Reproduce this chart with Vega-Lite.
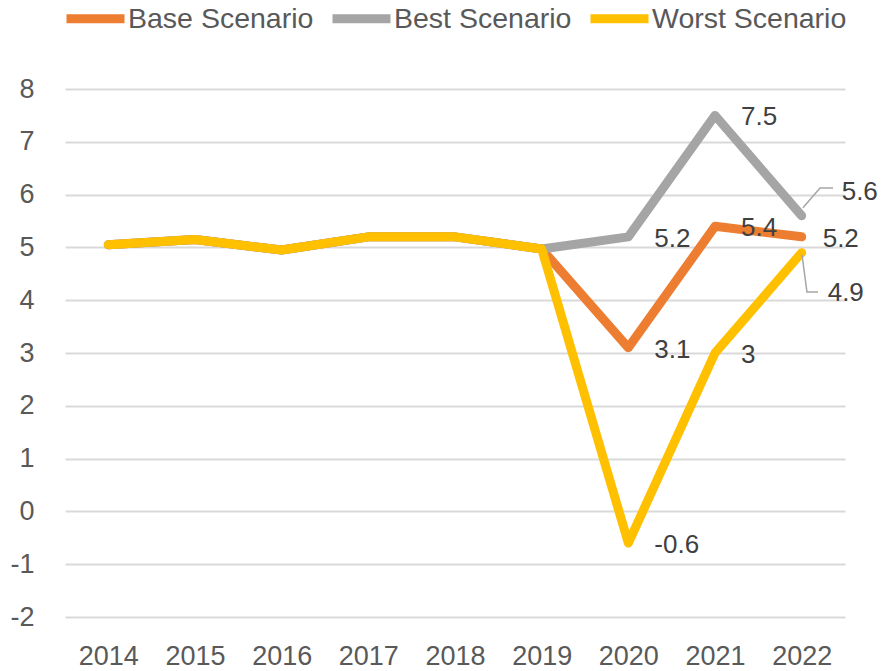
{
  "$schema": "https://vega.github.io/schema/vega-lite/v6.json",
  "width": 780,
  "height": 528,
  "autosize": "none",
  "padding": {"left": 65, "top": 89, "right": 38, "bottom": 54},
  "background": "white",
  "config": {
    "view": {"stroke": null},
    "font": "Liberation Sans"
  },
  "datasets": {
    "series": [
      {"year": 2014, "scenario": "Base Scenario", "value": 5.05},
      {"year": 2015, "scenario": "Base Scenario", "value": 5.15},
      {"year": 2016, "scenario": "Base Scenario", "value": 4.95},
      {"year": 2017, "scenario": "Base Scenario", "value": 5.2},
      {"year": 2018, "scenario": "Base Scenario", "value": 5.2},
      {"year": 2019, "scenario": "Base Scenario", "value": 4.97},
      {"year": 2020, "scenario": "Base Scenario", "value": 3.1},
      {"year": 2021, "scenario": "Base Scenario", "value": 5.4},
      {"year": 2022, "scenario": "Base Scenario", "value": 5.2},
      {"year": 2014, "scenario": "Best Scenario", "value": 5.05},
      {"year": 2015, "scenario": "Best Scenario", "value": 5.15},
      {"year": 2016, "scenario": "Best Scenario", "value": 4.95},
      {"year": 2017, "scenario": "Best Scenario", "value": 5.2},
      {"year": 2018, "scenario": "Best Scenario", "value": 5.2},
      {"year": 2019, "scenario": "Best Scenario", "value": 4.97},
      {"year": 2020, "scenario": "Best Scenario", "value": 5.2},
      {"year": 2021, "scenario": "Best Scenario", "value": 7.5},
      {"year": 2022, "scenario": "Best Scenario", "value": 5.6},
      {"year": 2014, "scenario": "Worst Scenario", "value": 5.05},
      {"year": 2015, "scenario": "Worst Scenario", "value": 5.15},
      {"year": 2016, "scenario": "Worst Scenario", "value": 4.95},
      {"year": 2017, "scenario": "Worst Scenario", "value": 5.2},
      {"year": 2018, "scenario": "Worst Scenario", "value": 5.2},
      {"year": 2019, "scenario": "Worst Scenario", "value": 4.97},
      {"year": 2020, "scenario": "Worst Scenario", "value": -0.6},
      {"year": 2021, "scenario": "Worst Scenario", "value": 3},
      {"year": 2022, "scenario": "Worst Scenario", "value": 4.9}
    ],
    "leaders": [
      {"leader": "best", "year": 2022.015, "value": 5.75},
      {"leader": "best", "year": 2022.212, "value": 6.125},
      {"leader": "best", "year": 2022.362, "value": 6.125},
      {"leader": "worst", "year": 2022.004, "value": 4.86},
      {"leader": "worst", "year": 2022.061, "value": 4.155},
      {"leader": "worst", "year": 2022.188, "value": 4.155}
    ]
  },
  "encoding": {
    "x": {
      "field": "year",
      "type": "quantitative",
      "scale": {"domain": [2013.5, 2022.5], "nice": false, "zero": false},
      "axis": {
        "title": null,
        "values": [2014, 2015, 2016, 2017, 2018, 2019, 2020, 2021, 2022],
        "labelExpr": "'' + datum.value",
        "grid": false,
        "domain": false,
        "ticks": false,
        "labelPadding": 26,
        "labelFontSize": 27,
        "labelColor": "#595959",
        "labelFont": "Liberation Sans",
        "labelFlush": false
      }
    },
    "y": {
      "field": "value",
      "type": "quantitative",
      "scale": {"domain": [-2, 8], "nice": false, "zero": false},
      "axis": {
        "title": null,
        "values": [-2, -1, 0, 1, 2, 3, 4, 5, 6, 7, 8],
        "labelExpr": "'' + datum.value",
        "grid": true,
        "gridColor": "#D9D9D9",
        "gridWidth": 2,
        "domain": false,
        "ticks": false,
        "labelPadding": 31,
        "labelFontSize": 27,
        "labelColor": "#595959",
        "labelFont": "Liberation Sans",
        "labelFlush": false
      }
    }
  },
  "layer": [
    {
      "data": {"name": "series"},
      "mark": {"type": "line", "strokeWidth": 9, "strokeCap": "round", "strokeJoin": "round"},
      "encoding": {
        "color": {
          "field": "scenario",
          "type": "nominal",
          "scale": {
            "domain": ["Base Scenario", "Best Scenario", "Worst Scenario"],
            "range": ["#ED7D31", "#A5A5A5", "#FFC000"]
          },
          "legend": {
            "title": null,
            "orient": "none",
            "direction": "horizontal",
            "legendX": -3,
            "legendY": -104,
            "symbolType": "stroke",
            "symbolSize": 3364,
            "symbolStrokeWidth": 9,
            "labelFontSize": 28.5,
            "labelColor": "#595959",
            "labelFont": "Liberation Sans",
            "labelOffset": -1,
            "columnPadding": 0,
            "labelLimit": 400
          }
        }
      }
    },
    {
      "data": {"name": "leaders"},
      "mark": {"type": "line", "strokeWidth": 1.5, "color": "#A6A6A6"},
      "encoding": {
        "detail": {"field": "leader", "type": "nominal"},
        "order": {"field": "year", "type": "quantitative"}
      }
    },
    {
      "data": {"name": "series"},
      "transform": [{"filter": "datum.year >= 2020 && datum.year < 2022"}],
      "mark": {"type": "text", "align": "left", "baseline": "middle", "dx": 26, "dy": 2, "fontSize": 26, "color": "#404040"},
      "encoding": {"text": {"field": "value", "type": "nominal"}}
    },
    {
      "data": {"name": "series"},
      "transform": [{"filter": "datum.year == 2022 && datum.scenario == 'Base Scenario'"}],
      "mark": {"type": "text", "align": "left", "baseline": "middle", "dx": 21, "dy": 2, "fontSize": 26, "color": "#404040"},
      "encoding": {"text": {"field": "value", "type": "nominal"}}
    },
    {
      "data": {"name": "series"},
      "transform": [{"filter": "datum.year == 2022 && datum.scenario == 'Best Scenario'"}],
      "mark": {"type": "text", "align": "left", "baseline": "middle", "dx": 40, "dy": -24, "fontSize": 26, "color": "#404040"},
      "encoding": {"text": {"field": "value", "type": "nominal"}}
    },
    {
      "data": {"name": "series"},
      "transform": [{"filter": "datum.year == 2022 && datum.scenario == 'Worst Scenario'"}],
      "mark": {"type": "text", "align": "left", "baseline": "middle", "dx": 26, "dy": 40, "fontSize": 26, "color": "#404040"},
      "encoding": {"text": {"field": "value", "type": "nominal"}}
    }
  ]
}
